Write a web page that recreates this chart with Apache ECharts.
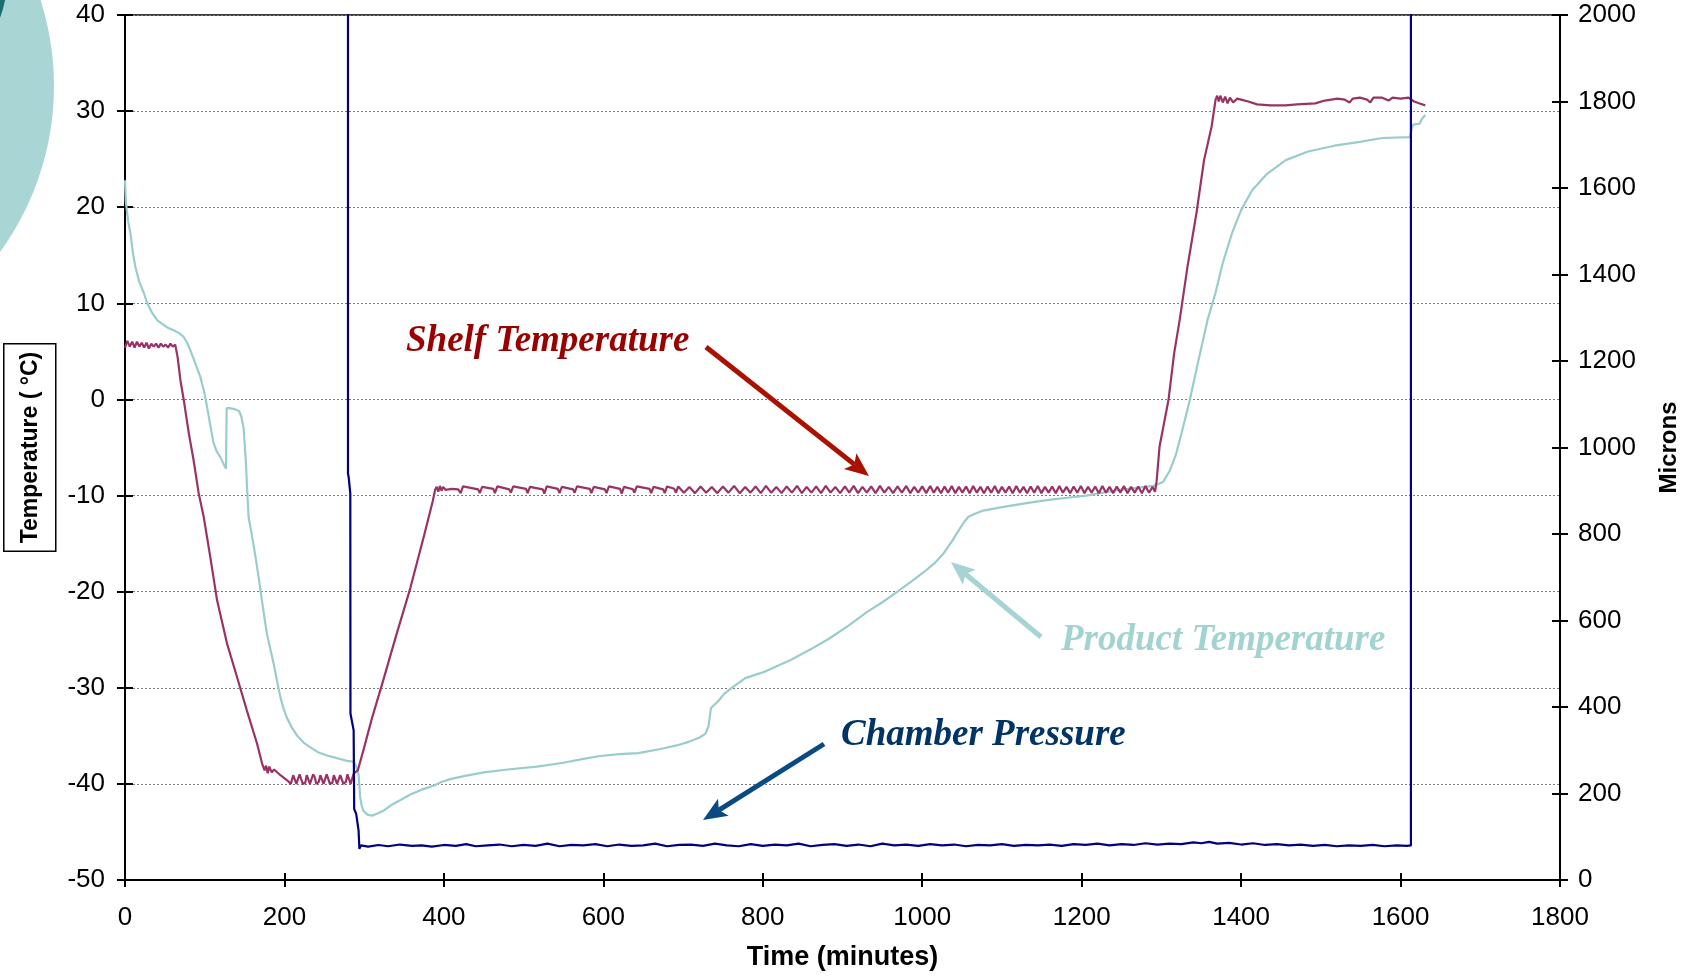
<!DOCTYPE html>
<html>
<head>
<meta charset="utf-8">
<title>Freeze-drying cycle</title>
<script src="https://cdn.jsdelivr.net/npm/echarts@6/dist/echarts.min.js"></script>
<style>
  html, body { margin: 0; padding: 0; background: #ffffff; }
  #chart { width: 1684px; height: 976px; }
</style>
</head>
<body>
<div id="chart"></div>
<script>
// ---- Axis ranges (tick labels follow from min / max / interval) ----
const timeRange = { min: 0, max: 1800, interval: 200 };      // minutes
const tempRange = { min: -50, max: 40, interval: 10 };       // deg C
const pressRange = { min: 0, max: 2000, interval: 200 };     // microns

// ---- Shelf temperature [minutes, deg C] ----
const shelfTemperature = [
  [0,5.4],[3,6.1],[6,5.5],[9,6.0],[12,5.4],[15,6.0],[18,5.5],[21,5.9],[24,5.4],[27,5.9],[30,5.3],[33,5.8],
  [36,5.5],[39,5.8],[42,5.4],[45,5.8],[48,5.5],[51,5.7],[54,5.4],[57,5.8],[60,5.5],[63,5.7],
  [66,4.4],[69.5,2.0],[73.6,0.0],[80,-3.5],[86,-6.3],[92.5,-9.8],[98.7,-12.2],[107,-16.4],[115.5,-20.9],
  [128,-25.4],[140.6,-28.9],[153,-32.4],[165.6,-35.8],[172,-37.9],
  [175,-38.6],[177,-38.1],[179,-38.9],[181,-38.2],[184,-38.8],[187,-38.5],[195,-39.1],[203,-39.6],[208,-40.0],
  [211,-39.1],[213,-39.2],[215,-40.0],[217,-39.9],[219,-39.0],[221,-39.2],[223,-40.0],[226,-39.9],[228,-39.1],
  [230,-39.2],[232,-40.0],[234,-39.9],[236,-39.0],[238,-39.3],[240,-40.0],[243,-39.8],[245,-39.1],[247,-39.3],
  [249,-40.0],[251,-39.9],[253,-39.0],[255,-39.2],[257,-40.0],[260,-39.9],[262,-39.1],[264,-39.2],[266,-40.0],
  [268,-39.9],[270,-39.1],[272,-39.3],[274,-40.0],[277,-39.8],[279,-39.0],[281,-39.2],[283,-40.0],[285,-39.9],
  [287,-38.9],[292,-38.6],
  [300,-36.2],[310,-33.1],[324,-29.2],[340,-24.6],[358,-19.6],[375,-14.2],[386,-10.6],[389,-9.4],
  [391,-9.1],[393,-9.6],[395,-9.0],[397,-9.5],[399,-9.1],[402,-9.4],[410,-9.3],[418,-9.35],[421,-9.75],
  [424,-9.05],[443,-9.35],[445,-9.75],[448,-9.1],[462,-9.3],[464,-9.75],[467,-9.05],[482,-9.35],[484,-9.7],
  [487,-9.05],[503,-9.3],[505,-9.75],[508,-9.1],[524,-9.35],[526,-9.8],[529,-9.05],[543,-9.3],[545,-9.75],
  [548,-9.1],[562,-9.35],[564,-9.7],[567,-9.05],[583,-9.3],[585,-9.75],[588,-9.1],[602,-9.35],[604,-9.75],
  [607,-9.05],[621,-9.3],[623,-9.8],[626,-9.1],[637,-9.35],[639,-9.7],[642,-9.05],[658,-9.3],[660,-9.75],
  [663,-9.1],[675,-9.35],[677,-9.75],[680,-9.05],[689,-9.3],[691,-9.7],
  [694,-9.05],[701,-9.7],[708,-9.1],[715,-9.75],[722,-9.05],[729,-9.7],[736,-9.1],[743,-9.75],[750,-9.05],
  [757,-9.7],[764,-9.0],[771,-9.75],[778,-9.1],[784.5,-9.7],[791,-9.05],[797.5,-9.75],[804,-9.0],[810.5,-9.7],
  [817,-9.1],[823.5,-9.75],[830,-9.05],[836.5,-9.7],[843,-9.0],[849,-9.75],[855,-9.1],[861,-9.7],[867,-9.05],
  [873,-9.75],[879,-9.0],[885,-9.7],[891,-9.1],[897,-9.75],[903,-9.05],[908.5,-9.7],[914,-9.0],[919.5,-9.75],
  [925,-9.1],[930.5,-9.7],[936,-9.05],[941.5,-9.75],[947,-9.0],[952.5,-9.7],[958,-9.1],[963.5,-9.75],
  [969,-9.05],[974.5,-9.7],[980,-9.0],[985,-9.75],[990,-9.1],[995,-9.7],[1000,-9.05],[1005,-9.75],
  [1010,-9.0],[1014.5,-9.7],[1019,-9.1],[1023.5,-9.75],[1028,-9.05],[1032.5,-9.7],[1037,-9.0],[1041.5,-9.75],
  [1046,-9.1],[1050.5,-9.7],[1055,-9.05],[1059.5,-9.75],[1064,-9.0],[1068.5,-9.7],[1073,-9.1],[1077.5,-9.75],
  [1082,-9.05],[1086.5,-9.7],[1091,-9.0],[1095.5,-9.75],[1100,-9.1],[1104.5,-9.7],[1109,-9.05],[1113.5,-9.75],
  [1118,-9.0],[1122.5,-9.7],[1127,-9.1],[1131.5,-9.75],[1136,-9.05],[1140.5,-9.7],[1145,-9.0],[1149.5,-9.75],
  [1154,-9.1],[1158.5,-9.7],[1163,-9.05],[1167.5,-9.75],[1172,-9.0],[1176.5,-9.7],[1181,-9.1],[1185.5,-9.75],
  [1190,-9.05],[1194.5,-9.7],[1199,-9.0],[1203.5,-9.75],[1208,-9.1],[1212.5,-9.7],[1217,-9.05],[1221.5,-9.75],
  [1226,-9.0],[1230.5,-9.7],[1235,-9.1],[1239.5,-9.75],[1244,-9.05],[1248.5,-9.7],[1253,-9.0],[1257.5,-9.75],
  [1262,-9.1],[1266.5,-9.7],[1271,-9.05],[1275.5,-9.75],[1280,-9.0],[1284.5,-9.7],[1289,-9.1],[1292,-9.6],
  [1294,-8.5],[1297.7,-4.9],[1309,0.0],[1316,4.8],[1323,8.3],[1332.7,13.8],[1344,19.4],[1353.5,24.9],
  [1363,28.4],[1368,31.2],[1370,31.6],[1372,31.0],[1374,31.6],[1377,30.9],[1380,31.5],[1383,30.8],[1386,31.4],
  [1390,30.9],[1395,31.3],[1400,31.2],[1409,31.0],[1420,30.7],[1437,30.6],[1456,30.6],[1470,30.7],[1493,30.8],
  [1505,31.1],[1521,31.3],[1530,31.2],[1536,30.9],[1540,31.3],[1549,31.4],[1558,31.2],[1562,30.9],[1566,31.4],
  [1577,31.4],[1585,31.1],[1590,31.4],[1600,31.3],[1610,31.4],[1617,31.0],[1624,30.8],[1631,30.6]
];

// ---- Product temperature [minutes, deg C] ----
const productTemperature = [
  [0,22.8],[1,20.6],[4,18.5],[6.8,17.3],[10,15.2],[13,13.8],[18,12.2],[23.5,11.1],[28,10.0],[34,9.0],
  [41,8.2],[48.5,7.75],[55,7.4],[61,7.2],[68,6.9],[73.6,6.5],[78,5.9],[82,5.1],[88,3.8],[94.5,2.35],
  [99,0.9],[103,-0.8],[107,-2.7],[111,-4.5],[115,-5.4],[119.6,-6.0],[123,-6.6],[126.7,-7.2],[127.5,-0.9],
  [131,-0.9],[137,-1.0],[143,-1.2],[146,-1.8],[148.8,-3.0],[151.5,-6.3],[153,-9.0],[155,-12.2],[161,-15.0],
  [166,-17.6],[170,-19.9],[174,-22.2],[178,-24.4],[186.5,-27.5],[191,-29.4],[195,-31.0],[199,-32.2],
  [203,-33.1],[209,-34.1],[216,-35.0],[224,-35.7],[232.5,-36.2],[242,-36.7],[253.4,-37.05],[265,-37.3],
  [278.5,-37.6],[287,-37.7],[290,-38.2],[293,-39.0],[295,-41.4],[297,-42.3],[299,-42.8],[304,-43.2],
  [310,-43.3],[316,-43.1],[324,-42.8],[334,-42.2],[345,-41.7],[358,-41.1],[372,-40.6],[387,-40.2],
  [397,-39.8],[408,-39.5],[425,-39.2],[450,-38.8],[480,-38.5],[517,-38.2],[550,-37.8],[575,-37.4],
  [596,-37.1],[620,-36.9],[644,-36.8],[670,-36.4],[692,-36.0],[708,-35.6],[720,-35.2],[728,-34.8],
  [732,-34.0],[735,-32.1],[744,-31.4],[752,-30.6],[761,-30.0],[778,-29.0],[800,-28.4],[835,-27.1],
  [860,-26.0],[883,-24.9],[908,-23.5],[931,-22.1],[950,-21.1],[969,-20.0],[987,-18.9],[1003,-17.9],
  [1016,-17.0],[1027,-16.0],[1037,-14.8],[1046,-13.6],[1052,-12.8],[1058,-12.2],[1066,-11.9],[1075,-11.6],
  [1100,-11.2],[1123,-10.9],[1145,-10.6],[1164,-10.4],[1185,-10.2],[1206,-10.0],[1227,-9.7],[1248,-9.4],
  [1269,-9.2],[1290,-9.0],[1302,-8.6],[1310,-7.5],[1318,-5.8],[1325,-3.6],[1335,-0.3],[1346.6,4.1],
  [1358,8.3],[1367.6,11.0],[1377,14.2],[1388.6,17.3],[1400,19.7],[1414,21.8],[1433,23.5],[1456,24.9],
  [1484,25.8],[1517,26.4],[1549,26.8],[1577,27.2],[1612,27.3],[1614,28.2],[1616,28.6],[1624,28.7],
  [1627,29.2],[1631,29.6]
];

// ---- Chamber pressure [minutes, microns]; atmospheric before pump-down and after venting ----
const chamberPressure = [
  [0,760000],[279,760000],[279.7,940],[280.5,932],[282.6,894],[282.8,385],[286.8,346],[287.5,164],
  [290,153],[293,114],[294,72],[296,80],[305,77],[318,81],[330,78],[345,82],[360,79],[372,80],[385,77],
  [400,81],[415,79],[428,83],[440,78],[455,80],[470,82],[485,78],[500,81],[515,79],[530,84],[545,78],
  [560,81],[575,80],[590,83],[605,78],[620,82],[635,79],[650,80],[665,84],[680,78],[695,81],[710,82],
  [725,79],[740,84],[755,80],[770,78],[785,83],[800,79],[815,82],[830,80],[845,84],[860,78],[875,81],
  [890,83],[905,79],[920,82],[935,78],[950,84],[965,80],[980,82],[995,79],[1010,83],[1025,80],[1040,82],
  [1055,78],[1070,81],[1085,80],[1100,83],[1115,79],[1130,81],[1145,80],[1160,82],[1175,79],[1190,83],
  [1205,81],[1220,84],[1235,80],[1250,83],[1265,81],[1280,85],[1295,82],[1310,84],[1325,83],[1340,87],
  [1350,85],[1360,88],[1370,84],[1385,86],[1400,82],[1415,85],[1430,81],[1445,83],[1460,80],[1475,82],
  [1490,79],[1505,81],[1520,78],[1535,80],[1550,79],[1565,81],[1580,78],[1595,80],[1608,79],[1613,80],
  [1613.5,760000],[1640,760000]
];

// ---- Text ----
const xAxisTitle = 'Time (minutes)';
const yAxisTitle = 'Temperature ( \u00B0C)';
const y2AxisTitle = 'Microns';
const shelfLabel = 'Shelf Temperature';
const productLabel = 'Product Temperature';
const pressureLabel = 'Chamber Pressure';

// ---- Styling ----
const SANS = '"Liberation Sans", Arial, sans-serif';
const SERIF = '"Liberation Serif", "Times New Roman", serif';
const COLOR_SHELF = '#993366';
const COLOR_PRODUCT = '#99cccc';
const COLOR_PRESSURE = '#000080';

const chart = echarts.init(document.getElementById('chart'), null, { renderer: 'canvas' });

const axisLineStyle = { show: true, onZero: false, lineStyle: { color: '#000', width: 2 } };
const tickStyle = { color: '#000', width: 2 };
const plainNumber = function (v) { return String(v); };
const labelStyle = { color: '#000', fontSize: 26, fontFamily: SANS, formatter: plainNumber };

// Arrow: shaft plus notched head, tail -> tip
function arrow(x1, y1, x2, y2, color, width, headLen, headW) {
  const dx = x2 - x1, dy = y2 - y1;
  const len = Math.sqrt(dx * dx + dy * dy);
  const ux = dx / len, uy = dy / len;
  const px = -uy, py = ux;
  const bx = x2 - ux * headLen, by = y2 - uy * headLen;
  const nx = x2 - ux * headLen * 0.78, ny = y2 - uy * headLen * 0.78;
  return [
    { type: 'line', silent: true, z: 50,
      shape: { x1: x1, y1: y1, x2: nx, y2: ny },
      style: { stroke: color, lineWidth: width, lineCap: 'butt' } },
    { type: 'polygon', silent: true, z: 51,
      shape: { points: [[x2, y2], [bx + px * headW / 2, by + py * headW / 2], [nx, ny], [bx - px * headW / 2, by - py * headW / 2]] },
      style: { fill: color } }
  ];
}

function label(text, x, y, color) {
  return { type: 'text', silent: true, z: 52, x: x, y: y,
    style: { text: text, fill: color, font: 'italic bold 37px ' + SERIF, textAlign: 'left', textVerticalAlign: 'middle' } };
}

const option = {
  animation: false,
  backgroundColor: '#ffffff',
  grid: { left: 125, right: 124, top: 15, bottom: 96, outerBoundsMode: 'none', containLabel: false,
    show: true, borderColor: '#000', borderWidth: 1.5, backgroundColor: 'transparent' },
  xAxis: [
    { type: 'value', min: timeRange.min, max: timeRange.max, interval: timeRange.interval, position: 'bottom',
      axisLine: axisLineStyle,
      axisTick: { show: true, inside: false, length: 7, lineStyle: tickStyle },
      axisLabel: Object.assign({ margin: 25 }, labelStyle),
      splitLine: { show: false },
      name: xAxisTitle, nameLocation: 'middle', nameGap: 64,
      nameTextStyle: { color: '#000', fontSize: 27, fontWeight: 'bold', fontFamily: SANS } },
    { type: 'value', min: timeRange.min, max: timeRange.max, interval: timeRange.interval, position: 'bottom',
      axisLine: { show: false, onZero: false },
      axisTick: { show: true, inside: true, length: 7, lineStyle: tickStyle },
      axisLabel: { show: false }, splitLine: { show: false } }
  ],
  yAxis: [
    { type: 'value', min: tempRange.min, max: tempRange.max, interval: tempRange.interval, position: 'left',
      axisLine: axisLineStyle,
      axisTick: { show: true, inside: false, length: 8, lineStyle: tickStyle },
      axisLabel: Object.assign({ margin: 20 }, labelStyle),
      splitLine: { show: true, lineStyle: { color: '#7a7a7a', width: 1, type: [2, 2] } },
      name: yAxisTitle, nameLocation: 'middle', nameGap: 63, nameRotate: 90,
      nameTextStyle: { color: '#000', fontSize: 23, fontWeight: 'bold', fontFamily: SANS,
        borderColor: '#000', borderWidth: 1.5, padding: [15, 8, 14, 8] } },
    { type: 'value', min: pressRange.min, max: pressRange.max, interval: pressRange.interval, position: 'right',
      axisLine: axisLineStyle,
      axisTick: { show: true, inside: false, length: 8, lineStyle: tickStyle },
      axisLabel: Object.assign({ margin: 18 }, labelStyle),
      splitLine: { show: false },
      name: y2AxisTitle, nameLocation: 'middle', nameGap: 97, nameRotate: 90,
      nameTextStyle: { color: '#000', fontSize: 24, fontWeight: 'bold', fontFamily: SANS } },
    { type: 'value', min: tempRange.min, max: tempRange.max, interval: tempRange.interval, position: 'left',
      axisLine: { show: false, onZero: false },
      axisTick: { show: true, inside: true, length: 8, lineStyle: tickStyle },
      axisLabel: { show: false }, splitLine: { show: false } },
    { type: 'value', min: pressRange.min, max: pressRange.max, interval: pressRange.interval, position: 'right',
      axisLine: { show: false, onZero: false },
      axisTick: { show: true, inside: true, length: 8, lineStyle: tickStyle },
      axisLabel: { show: false }, splitLine: { show: false } }
  ],
  series: [
    { name: productLabel, type: 'line', xAxisIndex: 0, yAxisIndex: 0, data: productTemperature,
      showSymbol: false, symbol: 'none', clip: true, z: 3,
      lineStyle: { color: COLOR_PRODUCT, width: 2.2 } },
    { name: shelfLabel, type: 'line', xAxisIndex: 0, yAxisIndex: 0, data: shelfTemperature,
      showSymbol: false, symbol: 'none', clip: true, z: 4,
      lineStyle: { color: COLOR_SHELF, width: 2.2 } },
    { name: pressureLabel, type: 'line', xAxisIndex: 0, yAxisIndex: 1, data: chamberPressure,
      showSymbol: false, symbol: 'none', clip: true, z: 5,
      lineStyle: { color: COLOR_PRESSURE, width: 2.2 } }
  ],
  graphic: [].concat(
    [
      { type: 'circle', silent: true, z: -10, shape: { cx: -228, cy: 86, r: 282 }, style: { fill: '#a9d5d5' } },
      { type: 'circle', silent: true, z: -9, shape: { cx: -100, cy: -20, r: 107 }, style: { fill: '#1b6f6f' } }
    ],
    arrow(706, 347, 869, 476, '#aa1100', 5, 24, 20),
    arrow(1041, 637, 951, 562, '#a6d4d4', 5, 24, 20),
    arrow(824, 744, 703, 820, '#0a4a82', 5, 24, 20),
    [
      label(shelfLabel, 406, 341, '#990000'),
      label(productLabel, 1061, 640, '#a3d3d1'),
      label(pressureLabel, 841, 735, '#003366')
    ]
  )
};

chart.setOption(option);
</script>
</body>
</html>
